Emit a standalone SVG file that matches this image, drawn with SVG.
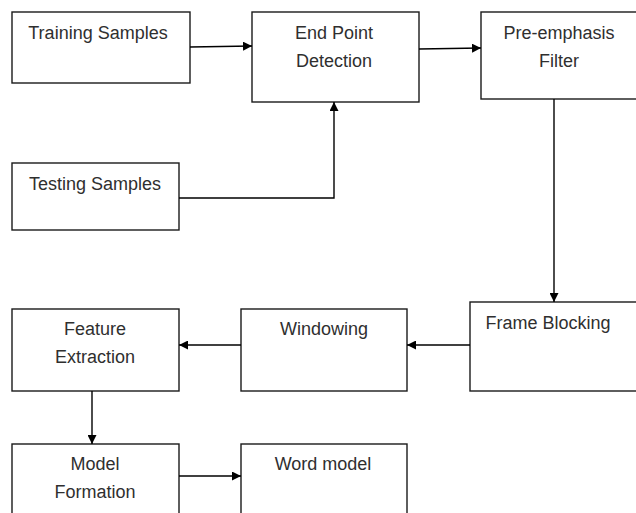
<svg xmlns="http://www.w3.org/2000/svg" width="636" height="513" viewBox="0 0 636 513">
<defs>
<marker id="ah" viewBox="0 0 10 10" refX="10" refY="5" markerWidth="9" markerHeight="9" markerUnits="userSpaceOnUse" orient="auto">
<path d="M0,0 L10,5 L0,10 Z" fill="#000"/>
</marker>
</defs>
<style>
.box{fill:#fff;stroke:#1a1a1a;stroke-width:1.4}
.t{font-family:"Liberation Sans",Arial,sans-serif;font-size:18px;fill:#2f2f2f;text-anchor:middle}
.c{fill:none;stroke:#000;stroke-width:1.4}
</style>
<rect width="636" height="513" fill="#fff"/>
<g id="training"><rect class="box" x="12" y="12" width="178" height="71"/><text class="t" x="98" y="39">Training Samples</text></g>
<g id="endpoint"><rect class="box" x="252" y="12" width="167" height="90"/><text class="t" x="334" y="39">End Point</text><text class="t" x="334" y="67">Detection</text></g>
<g id="preemphasis"><rect class="box" x="481" y="12" width="160" height="87"/><text class="t" x="559" y="39">Pre-emphasis</text><text class="t" x="559" y="67">Filter</text></g>
<g id="testing"><rect class="box" x="12" y="163" width="167" height="67"/><text class="t" x="95" y="190">Testing Samples</text></g>
<g id="frameblocking"><rect class="box" x="470" y="302" width="171" height="89"/><text class="t" x="548" y="329">Frame Blocking</text></g>
<g id="windowing"><rect class="box" x="241" y="309" width="166" height="82"/><text class="t" x="324" y="335">Windowing</text></g>
<g id="feature"><rect class="box" x="12" y="309" width="167" height="82"/><text class="t" x="95" y="335">Feature</text><text class="t" x="95" y="363">Extraction</text></g>
<g id="model"><rect class="box" x="12" y="444" width="167" height="80"/><text class="t" x="95" y="470">Model</text><text class="t" x="95" y="498">Formation</text></g>
<g id="wordmodel"><rect class="box" x="241" y="444" width="166" height="80"/><text class="t" x="323" y="470">Word model</text></g>
<g id="connectors">
<path class="c" d="M190,47 L252,46" marker-end="url(#ah)"/>
<path class="c" d="M419,49 L481,48" marker-end="url(#ah)"/>
<path class="c" d="M179,198 L334,198 L334,102" marker-end="url(#ah)"/>
<path class="c" d="M554,99 L554,302" marker-end="url(#ah)"/>
<path class="c" d="M470,345 L407,345" marker-end="url(#ah)"/>
<path class="c" d="M241,345 L179,345" marker-end="url(#ah)"/>
<path class="c" d="M92,391 L92,444" marker-end="url(#ah)"/>
<path class="c" d="M179,476 L241,476" marker-end="url(#ah)"/>
</g>
</svg>
